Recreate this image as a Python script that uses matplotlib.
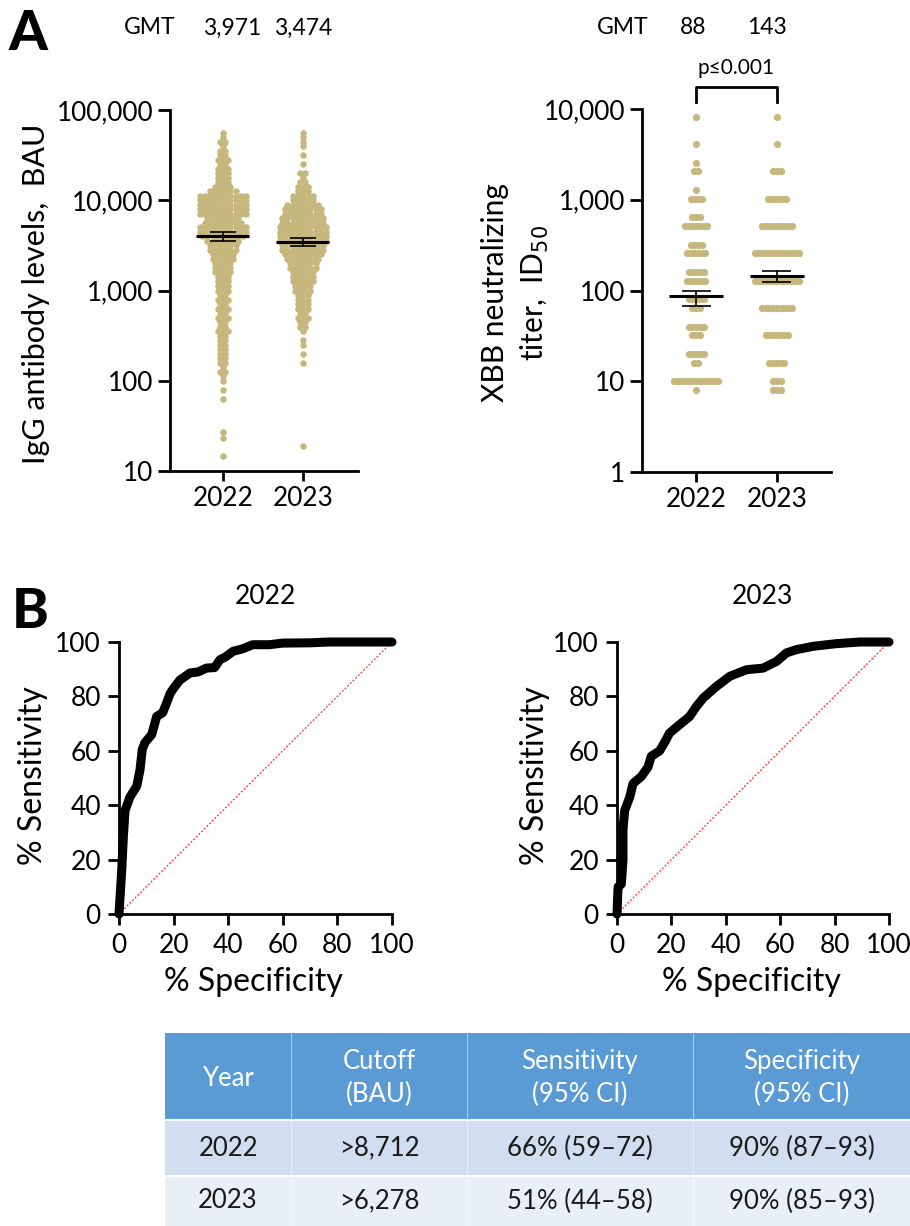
import numpy as np
import matplotlib
matplotlib.use('Agg')
import matplotlib.pyplot as plt
from matplotlib.ticker import FixedLocator, NullLocator
from matplotlib.patches import Rectangle

plt.rcParams['font.family'] = ['Lato', 'DejaVu Sans']

# ---- panel A data: IgG levels (log10 BAU rows, dot counts per row) ----
years = ['2022', '2023']
igg_log_levels = [4.75, 4.70, 4.65, 4.60, 4.55, 4.50, 4.45, 4.40, 4.35, 4.30,
                  4.25, 4.20, 4.15, 4.10, 4.05, 4.00, 3.95, 3.90, 3.85, 3.80,
                  3.75, 3.70, 3.65, 3.60, 3.55, 3.50, 3.45, 3.40, 3.35, 3.30,
                  3.25, 3.20, 3.15, 3.10, 3.05, 3.00, 2.95, 2.90, 2.85, 2.80,
                  2.75, 2.70, 2.65, 2.60, 2.55, 2.50, 2.45, 2.40, 2.35, 2.30,
                  2.25, 2.20, 2.15, 2.10, 2.05, 2.00]
igg_2022_counts = [1, 1, 2, 1, 2, 2, 3, 2, 3, 3,
                   3, 3, 4, 6, 10, 10, 10, 10, 10, 7,
                   8, 10, 10, 9, 7, 6, 6, 5, 5, 4,
                   4, 4, 3, 3, 3, 3, 2, 3, 2, 3,
                   2, 3, 2, 2, 3, 2, 2, 2, 2, 2,
                   2, 2, 1, 2, 1, 1]
igg_2023_counts = [1, 1, 1, 1, 0, 1, 0, 1, 0, 2,
                   1, 2, 3, 3, 5, 5, 7, 8, 8, 9,
                   9, 10, 10, 10, 10, 9, 9, 8, 7, 6,
                   6, 5, 5, 5, 4, 4, 3, 3, 3, 3,
                   2, 3, 2, 2, 1, 0, 1, 1, 0, 1,
                   0, 1, 0, 0, 0, 0]
igg_2022_low = [78, 63, 27, 23, 14.5]
igg_2023_low = [19]
igg_gmt = [3971, 3474]
igg_ci_lo = [3550, 3150]
igg_ci_hi = [4450, 3830]

# ---- panel A data: XBB neutralizing titers ----
titer_levels = [8192, 4096, 2560, 2048, 1280, 1024, 640, 512, 320, 256,
                160, 128, 80, 64, 40, 32, 20, 16, 10, 8]
xbb_2022_counts = [1, 1, 1, 2, 1, 4, 3, 7, 4, 6, 5, 6, 5, 3, 5, 3, 5, 2, 13, 1]
xbb_2023_counts = [1, 1, 0, 3, 0, 6, 0, 9, 0, 13, 0, 13, 0, 9, 0, 7, 0, 5, 3, 3]
xbb_gmt = [88, 143]
xbb_ci_lo = [68, 125]
xbb_ci_hi = [100, 166]

# ---- panel B data: ROC curves (100 - specificity, sensitivity) ----
roc_2022_x = [0, 0.5, 1, 1.6, 2.2, 4, 6.5, 7.7, 8.5, 9.5, 12, 13.8, 16, 17.4,
              18.7, 20, 22.3, 26, 29, 32, 35, 37, 39, 41.8, 45, 49, 55, 60,
              70, 77, 90, 100]
roc_2022_y = [0, 8, 16, 28.5, 38, 43, 47, 53, 60.4, 63, 66, 72.6, 74, 77.5,
              81, 83, 86, 88.6, 89, 90.4, 90.6, 93.5, 94.5, 96.6, 97.4, 99,
              99, 99.6, 99.7, 100, 100, 100]
roc_2023_x = [0, 0.4, 1.6, 2.2, 2.2, 2.8, 4.7, 5.9, 8.9, 11.4, 12.6, 15.7,
              18, 19.3, 23, 26.7, 29.2, 31.7, 36.6, 41.5, 47.6, 53.7, 58.7,
              62.3, 66, 72, 80.7, 89.3, 100]
roc_2023_y = [0, 10, 11, 20, 31, 38, 43, 48, 50.5, 54, 58, 60, 64, 66.5,
              69.6, 72.6, 76.3, 79.4, 83.7, 87.4, 89.8, 90.4, 92.9, 96, 97.2,
              98.4, 99.4, 100, 100]

# ---- table ----
table_header = ['Year', 'Cutoff\n(BAU)', 'Sensitivity\n(95% CI)', 'Specificity\n(95% CI)']
table_rows = [['2022', '>8,712', '66% (59\u201372)', '90% (87\u201393)'],
              ['2023', '>6,278', '51% (44\u201358)', '90% (85\u201393)']]

dot_color = '#C6B77E'
W, H = 910, 1226
fig = plt.figure(figsize=(W / 100, H / 100), dpi=100)


def px_axes(x0, y0, x1, y1):
    return fig.add_axes([x0 / W, 1 - y1 / H, (x1 - x0) / W, (y1 - y0) / H])


def fx(px):
    return px / W


def fy(py):
    return 1 - py / H


def swarm(ax, xc, values, counts, step, size):
    xs, ys = [], []
    for v, n in zip(values, counts):
        for i in range(n):
            xs.append(xc + (i - (n - 1) / 2) * step)
            ys.append(v)
    ax.scatter(xs, ys, s=size, color=dot_color, linewidths=0, zorder=2, clip_on=False)


def style_axes(ax, labelsize):
    for s in ['top', 'right']:
        ax.spines[s].set_visible(False)
    for s in ['left', 'bottom']:
        ax.spines[s].set_linewidth(2)
    ax.tick_params(direction='out', length=8.5, width=2, labelsize=labelsize, color='black')


def gmt_bars(ax, xc, gmt, lo, hi, half):
    ax.hlines(gmt, xc - 0.33, xc + 0.33, color='black', lw=2.2, zorder=4)
    ax.vlines(xc, lo, hi, color='black', lw=1.2, zorder=4)
    ax.hlines([lo, hi], xc - half, xc + half, color='black', lw=1.2, zorder=4)


# ---------------- panel A left: IgG ----------------
ax1 = px_axes(170, 110, 358, 471)
vals = 10 ** np.array(igg_log_levels)
swarm(ax1, 0, vals, igg_2022_counts, 0.064, 22)
swarm(ax1, 1, vals, igg_2023_counts, 0.064, 22)
swarm(ax1, 0, igg_2022_low, [1] * len(igg_2022_low), 0.064, 22)
swarm(ax1, 1, igg_2023_low, [1] * len(igg_2023_low), 0.064, 22)
for i in range(2):
    gmt_bars(ax1, i, igg_gmt[i], igg_ci_lo[i], igg_ci_hi[i], 0.16)
ax1.set_yscale('log')
ax1.set_ylim(10, 1e5)
ax1.set_xlim(-0.66, 1.69)
ax1.yaxis.set_major_locator(FixedLocator([10, 100, 1000, 10000, 100000]))
ax1.yaxis.set_minor_locator(NullLocator())
ax1.set_yticklabels(['10', '100', '1,000', '10,000', '100,000'])
ax1.set_xticks([0, 1])
ax1.set_xticklabels(years)
style_axes(ax1, 18.8)
ax1.tick_params(axis='x', length=7.5)
fig.text(fx(36), fy(294), 'IgG antibody levels,  BAU', rotation=90,
         ha='center', va='center', fontsize=22)

# ---------------- panel A right: XBB ----------------
ax2 = px_axes(642, 109, 831, 472)
swarm(ax2, 0, titer_levels, xbb_2022_counts, 0.046, 27)
swarm(ax2, 1, titer_levels, xbb_2023_counts, 0.046, 27)
for i in range(2):
    gmt_bars(ax2, i, xbb_gmt[i], xbb_ci_lo[i], xbb_ci_hi[i], 0.18)
ax2.set_yscale('log')
ax2.set_ylim(1, 1e4)
ax2.set_xlim(-0.67, 1.67)
ax2.yaxis.set_major_locator(FixedLocator([1, 10, 100, 1000, 10000]))
ax2.yaxis.set_minor_locator(NullLocator())
ax2.set_yticklabels(['1', '10', '100', '1,000', '10,000'])
ax2.set_xticks([0, 1])
ax2.set_xticklabels(years)
style_axes(ax2, 18.8)
ax2.tick_params(axis='x', length=7.5)
tr = ax2.get_xaxis_transform()
ax2.plot([0, 0, 1, 1], [1.019, 1.061, 1.061, 1.019], color='black', lw=2,
         transform=tr, clip_on=False)
ax2.text(0.5, 1.085, 'p\u22640.001', transform=tr, ha='center', va='bottom', fontsize=15)
fig.text(fx(495), fy(293), 'XBB neutralizing', rotation=90, ha='center', va='center', fontsize=21.5)
fig.text(fx(535), fy(293), 'titer,  ID$_{50}$', rotation=90, ha='center', va='center', fontsize=21.5)

# GMT header texts
for x, s in [(150, 'GMT'), (232, '3,971'), (303, '3,474'),
             (623, 'GMT'), (693, '88'), (767, '143')]:
    fig.text(fx(x), fy(28), s, ha='center', va='center', fontsize=16.5)

fig.text(fx(8), fy(50), 'A', fontsize=40, fontweight='black', va='baseline')
fig.text(fx(12), fy(628), 'B', fontsize=40, fontweight='black', va='baseline')

# ---------------- panel B: ROC ----------------
for (x0, x1, title, tx, rx, ry, ylab_x) in [
        (119, 392, '2022', 265, roc_2022_x, roc_2022_y, 33),
        (617, 889, '2023', 762, roc_2023_x, roc_2023_y, 535)]:
    ax = px_axes(x0, 642, x1, 914)
    ax.plot([0, 100], [0, 100], color='#ff2a2a', lw=0.9, ls=(0, (1.5, 1.5)), zorder=2)
    ax.plot(rx, ry, color='black', lw=6.5, solid_capstyle='round',
            solid_joinstyle='round', clip_on=False, zorder=3)
    ax.set_xlim(0, 100)
    ax.set_ylim(0, 100)
    ax.set_xticks(range(0, 101, 20))
    ax.set_yticks(range(0, 101, 20))
    style_axes(ax, 19)
    ax.tick_params(length=8)
    ax.tick_params(axis='x', pad=6)
    ax.tick_params(axis='y', pad=5)
    fig.text(fx(tx), fy(597), title, ha='center', va='center', fontsize=19)
    fig.text(fx((x0 + x1) / 2 - 2), fy(982), '% Specificity', ha='center', va='center', fontsize=23)
    fig.text(fx(ylab_x), fy(776), '% Sensitivity', rotation=90, ha='center', va='center', fontsize=23)

# ---------------- table ----------------
axt = px_axes(165, 1033, 910, 1226)
axt.set_xlim(165, 910)
axt.set_ylim(1226, 1033)
axt.axis('off')
col_edges = [165, 291, 467, 693, 910]
row_edges = [1033, 1120, 1176, 1226]
row_colors = ['#5B9BD5', '#D0DEEF', '#E9EFF7']
for r in range(3):
    axt.add_patch(Rectangle((165, row_edges[r]), 745, row_edges[r + 1] - row_edges[r],
                            facecolor=row_colors[r], edgecolor='none'))
for r in range(1, 3):
    axt.plot([165, 910], [row_edges[r], row_edges[r]], color='white', lw=1.5)
for c in range(1, 4):
    axt.plot([col_edges[c], col_edges[c]], [1033, 1226], color='white', lw=0.6, alpha=0.6)
for c in range(4):
    cx = (col_edges[c] + col_edges[c + 1]) / 2
    axt.text(cx, 1078, table_header[c], ha='center', va='center', fontsize=18.5,
             color='white', linespacing=1.4)
    for r in range(2):
        cy = (row_edges[r + 1] + row_edges[r + 2]) / 2
        axt.text(cx, cy, table_rows[r][c], ha='center', va='center', fontsize=18.5, color='#1a1a1a')

fig.savefig('out.png', dpi=100)
